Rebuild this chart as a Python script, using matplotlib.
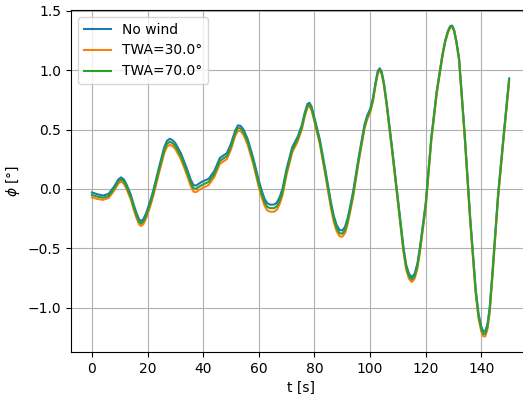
import matplotlib
matplotlib.use("Agg")
import matplotlib.pyplot as plt

# time [s]
t = [0, 2, 4, 6, 8, 9.5, 10.5, 11.5, 12.5, 14,
     15, 16, 17, 17.7, 18.5, 19.5, 21, 22, 24, 26,
     27, 28, 29, 30, 32, 34, 35.5, 36.5, 37.5, 38.5,
     40, 42, 44, 46, 47.5, 48.5, 50, 51.5, 52.5, 53.5,
     54.5, 56, 58, 60, 61, 62, 63, 64, 65.5, 66.5,
     67.5, 68.5, 70, 72, 74, 75.5, 76.5, 77.5, 78.2, 79,
     80, 82, 84, 86, 87, 88, 89, 90, 91, 92,
     93, 94, 96, 98, 99, 100, 101, 102, 102.8, 103.5,
     104.2, 105, 106, 108, 110, 112, 113, 114, 115, 116,
     117, 118, 120, 122, 124, 126, 127, 128, 128.8, 129.5,
     130.2, 131, 132, 134, 136, 138, 139, 140, 140.7, 141.4,
     142.2, 143, 144, 146, 148, 150]

# roll angle [deg]
phi_nowind = [-0.030, -0.045, -0.056, -0.042, 0.020, 0.080, 0.097, 0.080, 0.035, -0.050,
              -0.130, -0.200, -0.258, -0.270, -0.255, -0.205, -0.100, -0.020, 0.170, 0.350,
              0.405, 0.422, 0.410, 0.385, 0.300, 0.180, 0.080, 0.032, 0.028, 0.045,
              0.065, 0.085, 0.150, 0.260, 0.285, 0.300, 0.380, 0.490, 0.535, 0.530,
              0.500, 0.420, 0.260, 0.070, -0.010, -0.080, -0.120, -0.132, -0.132, -0.115,
              -0.070, 0.000, 0.170, 0.350, 0.440, 0.540, 0.640, 0.715, 0.725, 0.690,
              0.600, 0.410, 0.150, -0.120, -0.230, -0.305, -0.345, -0.350, -0.320, -0.240,
              -0.130, -0.010, 0.280, 0.540, 0.620, 0.670, 0.760, 0.900, 0.995, 1.015,
              0.985, 0.890, 0.720, 0.330, -0.080, -0.490, -0.640, -0.715, -0.742, -0.715,
              -0.630, -0.480, -0.120, 0.430, 0.830, 1.130, 1.250, 1.330, 1.370, 1.375,
              1.340, 1.250, 1.100, 0.470, -0.240, -0.850, -1.050, -1.160, -1.198, -1.200,
              -1.140, -1.000, -0.700, -0.050, 0.450, 0.930]

phi_twa30 = [-0.072, -0.085, -0.092, -0.077, -0.015, 0.045, 0.062, 0.044, -0.003, -0.090,
             -0.171, -0.242, -0.300, -0.312, -0.297, -0.247, -0.144, -0.065, 0.122, 0.300,
             0.355, 0.372, 0.360, 0.335, 0.250, 0.128, 0.025, -0.023, -0.027, -0.010,
             0.010, 0.033, 0.100, 0.210, 0.235, 0.250, 0.332, 0.445, 0.490, 0.485,
             0.455, 0.372, 0.210, 0.015, -0.066, -0.138, -0.180, -0.192, -0.192, -0.175,
             -0.127, -0.055, 0.120, 0.305, 0.400, 0.503, 0.606, 0.685, 0.695, 0.658,
             0.565, 0.370, 0.105, -0.170, -0.281, -0.357, -0.398, -0.403, -0.373, -0.290,
             -0.177, -0.055, 0.240, 0.505, 0.588, 0.640, 0.732, 0.875, 0.975, 0.995,
             0.965, 0.868, 0.695, 0.300, -0.115, -0.530, -0.681, -0.757, -0.784, -0.757,
             -0.672, -0.520, -0.155, 0.400, 0.805, 1.110, 1.232, 1.315, 1.358, 1.363,
             1.328, 1.235, 1.080, 0.440, -0.275, -0.890, -1.091, -1.202, -1.240, -1.242,
             -1.182, -1.041, -0.740, -0.085, 0.420, 0.905]

phi_twa70 = [-0.051, -0.065, -0.074, -0.060, 0.003, 0.063, 0.080, 0.062, 0.016, -0.070,
             -0.151, -0.221, -0.279, -0.291, -0.276, -0.226, -0.122, -0.043, 0.146, 0.325,
             0.380, 0.397, 0.385, 0.360, 0.275, 0.154, 0.053, 0.005, 0.001, 0.018,
             0.038, 0.059, 0.125, 0.235, 0.260, 0.275, 0.356, 0.468, 0.513, 0.508,
             0.478, 0.396, 0.235, 0.043, -0.038, -0.109, -0.150, -0.162, -0.162, -0.145,
             -0.099, -0.028, 0.145, 0.328, 0.420, 0.522, 0.623, 0.700, 0.710, 0.674,
             0.583, 0.390, 0.128, -0.145, -0.256, -0.331, -0.372, -0.377, -0.347, -0.265,
             -0.154, -0.033, 0.260, 0.523, 0.604, 0.655, 0.746, 0.888, 0.985, 1.005,
             0.975, 0.879, 0.708, 0.315, -0.098, -0.510, -0.661, -0.736, -0.763, -0.736,
             -0.651, -0.500, -0.138, 0.415, 0.818, 1.120, 1.241, 1.323, 1.364, 1.369,
             1.334, 1.243, 1.090, 0.455, -0.258, -0.870, -1.071, -1.181, -1.219, -1.221,
             -1.161, -1.021, -0.720, -0.068, 0.435, 0.918]

labels = ["No wind", "TWA=30.0°", "TWA=70.0°"]

fig = plt.figure(figsize=(5.23, 3.94), dpi=100)
ax = fig.add_axes([0.1358, 0.1066, 0.8776, 0.868])

for y, lab in zip([phi_nowind, phi_twa30, phi_twa70], labels):
    ax.plot(t, y, label=lab, linewidth=1.5)

ax.set_xlabel("t [s]")
ax.set_ylabel(r"$\phi$ [°]")
ax.set_xticks([0, 20, 40, 60, 80, 100, 120, 140])
ax.set_yticks([-1.0, -0.5, 0.0, 0.5, 1.0, 1.5])
ax.spines["right"].set_visible(False)
ax.grid(True)
ax.legend(loc="upper left")

fig.savefig("out.png", dpi=100)
